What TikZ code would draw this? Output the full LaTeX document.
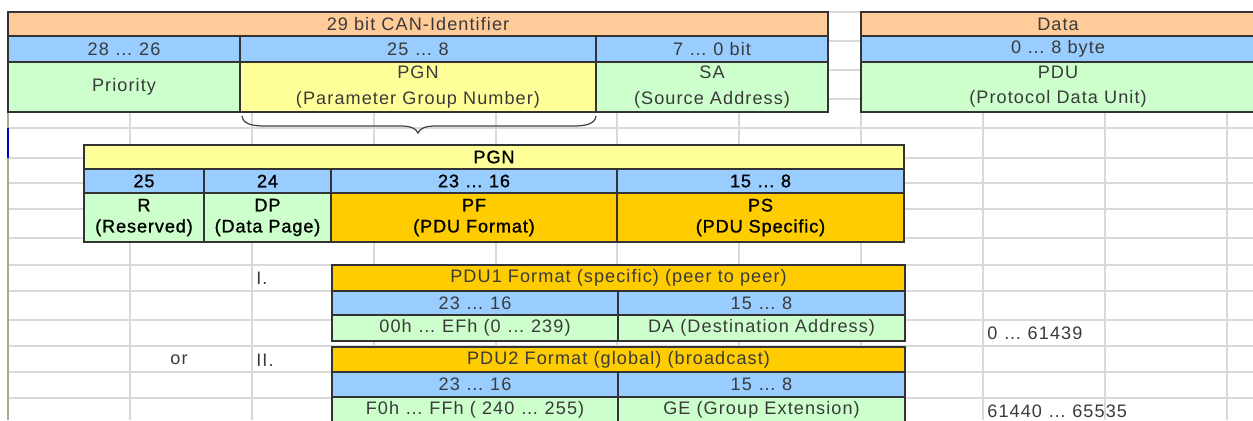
\documentclass[tikz,border=0pt]{standalone}
\usepackage{fontspec}
\setmainfont{Liberation Sans}
\newfontfamily\cellfont{Liberation Sans}[LetterSpace=6]
\newfontfamily\heavyfont{Liberation Sans}[LetterSpace=5, FakeBold=1.2]
\usetikzlibrary{positioning}

\definecolor{canorange}{HTML}{FFCC99}
\definecolor{bitblue}{HTML}{99CCFF}
\definecolor{fieldgreen}{HTML}{CCFFCC}
\definecolor{pgnyellow}{HTML}{FFFF99}
\definecolor{pdugold}{HTML}{FFCC00}
\definecolor{gridgray}{HTML}{D9D9D9}
\definecolor{textgray}{HTML}{3A3A3A}
\definecolor{sheetedge}{HTML}{A8A892}

\begin{document}
\begin{tikzpicture}[x=0.02cm, y=-0.02cm]
		\tikzstyle{Cell} = [rectangle, draw=black!80, line width=0.9pt, inner sep=0pt, align=center, text=textgray, font=\cellfont\fontsize{10.3}{14.3}\selectfont]
		\tikzstyle{Bold} = [Cell, text=black, font=\heavyfont\fontsize{10.3}{12}\selectfont]
		\tikzstyle{Label} = [inner sep=0pt, text=textgray, font=\cellfont\fontsize{10.3}{12}\selectfont]
		\tikzstyle{Grid} = [gridgray, line width=0.8pt]
		\useasboundingbox (0,0) rectangle (1253,420);
		
		% sheet grid
		\foreach \x in {130,252,374,496,617,739,861,983,1105,1227}
			\draw [Grid] (\x,112) -- (\x,420);
		\foreach \y in {128,158,183,209,238,265,291,320,346,372,398}
			\draw [Grid] (8,\y) -- (1253,\y);
		\foreach \y in {12,41,70,99}
			\draw [Grid] (828,\y) -- (861,\y);
		\draw [sheetedge, line width=0.8pt] (8,112) -- (8,420);
		\draw [blue!80!black, line width=0.8pt] (8,128) -- (8,158);
		
		% 29 bit identifier
		\node (canid) [Cell, fill=canorange, minimum width=16.4cm, minimum height=0.48cm] at (418,24) {29 bit CAN-Identifier};
		\node (bitsprio) [Cell, fill=bitblue, minimum width=4.64cm, minimum height=0.52cm] at (124,49) {28 … 26};
		\node (bitspgn) [Cell, fill=bitblue, minimum width=7.12cm, minimum height=0.52cm] at (418,49) {25 … 8};
		\node (bitssa) [Cell, fill=bitblue, minimum width=4.64cm, minimum height=0.52cm] at (712,49) {7 … 0 bit};
		\node (prio) [Cell, fill=fieldgreen, minimum width=4.64cm, minimum height=1cm] at (124,87) {Priority};
		\node (pgn) [Cell, fill=pgnyellow, minimum width=7.12cm, minimum height=1cm] at (418,87) {PGN\\(Parameter Group Number)};
		\node (sa) [Cell, fill=fieldgreen, minimum width=4.64cm, minimum height=1cm] at (712,87) {SA\\(Source Address)};
		
		% data field
		\node (data) [Cell, fill=canorange, minimum width=7.88cm, minimum height=0.48cm] at (1058,24) {Data};
		\node (bytes) [Cell, fill=bitblue, minimum width=7.88cm, minimum height=0.52cm] at (1058,49) {0 … 8 byte};
		\node (pdu) [Cell, fill=fieldgreen, minimum width=7.88cm, minimum height=1cm] at (1058,87) {PDU\\(Protocol Data Unit)};
		
		% brace under PGN
		\draw [black!75, line width=0.7pt] (242,116) .. controls (243,124) and (252,126) .. (265,126) -- (400,126)
			.. controls (410,126) and (416,128) .. (418,133) .. controls (420,128) and (426,126) .. (436,126)
			-- (573,126) .. controls (586,126) and (595,124) .. (596,116);
		
		% PGN split
		\node (pgnhead) [Bold, fill=pgnyellow, minimum width=16.4cm, minimum height=0.48cm] at (494,157) {PGN};
		\node (bitsr) [Bold, fill=bitblue, minimum width=2.4cm, minimum height=0.48cm] at (144,181) {25};
		\node (bitsdp) [Bold, fill=bitblue, minimum width=2.54cm, minimum height=0.48cm] at (267.5,181) {24};
		\node (bitspf) [Bold, fill=bitblue, minimum width=5.72cm, minimum height=0.48cm] at (474,181) {23 … 16};
		\node (bitsps) [Bold, fill=bitblue, minimum width=5.74cm, minimum height=0.48cm] at (760.5,181) {15 … 8};
		\node (res) [Bold, fill=fieldgreen, minimum width=2.4cm, minimum height=0.98cm] at (144,217.5) {R\\(Reserved)};
		\node (dp) [Bold, fill=fieldgreen, minimum width=2.54cm, minimum height=0.98cm] at (267.5,217.5) {DP\\(Data Page)};
		\node (pf) [Bold, fill=pdugold, minimum width=5.72cm, minimum height=0.98cm] at (474,217.5) {PF\\(PDU Format)};
		\node (ps) [Bold, fill=pdugold, minimum width=5.74cm, minimum height=0.98cm] at (760.5,217.5) {PS\\(PDU Specific)};
		
		% PDU1 format
		\node (pdu1head) [Cell, fill=pdugold, minimum width=11.46cm, minimum height=0.52cm] at (618.5,278) {PDU1 Format (specific) (peer to peer)};
		\node (pdu1bitspf) [Cell, fill=bitblue, minimum width=5.72cm, minimum height=0.48cm] at (475,303) {23 … 16};
		\node (pdu1bitsps) [Cell, fill=bitblue, minimum width=5.74cm, minimum height=0.48cm] at (761.5,303) {15 … 8};
		\node (pdu1pf) [Cell, fill=fieldgreen, minimum width=5.72cm, minimum height=0.52cm] at (475,328) {00h … EFh (0 … 239)};
		\node (pdu1ps) [Cell, fill=fieldgreen, minimum width=5.74cm, minimum height=0.52cm] at (761.5,328) {DA (Destination Address)};
		
		% PDU2 format
		\node (pdu2head) [Cell, fill=pdugold, minimum width=11.46cm, minimum height=0.5cm] at (618.5,359.5) {PDU2 Format (global) (broadcast)};
		\node (pdu2bitspf) [Cell, fill=bitblue, minimum width=5.72cm, minimum height=0.5cm] at (475,384.5) {23 … 16};
		\node (pdu2bitsps) [Cell, fill=bitblue, minimum width=5.74cm, minimum height=0.5cm] at (761.5,384.5) {15 … 8};
		\node (pdu2pf) [Cell, fill=fieldgreen, minimum width=5.72cm, minimum height=0.52cm] at (475,410) {F0h … FFh ( 240 … 255)};
		\node (pdu2ps) [Cell, fill=fieldgreen, minimum width=5.74cm, minimum height=0.52cm] at (761.5,410) {GE (Group Extension)};
		
		% labels in the sheet
		\node (one) [Label, anchor=west] at (256,278) {I.};
		\node (two) [Label, anchor=west] at (256,360) {II.};
		\node (or) [Label] at (179,360) {or};
		\node (range1) [Label, anchor=west] at (987,333) {0 … 61439};
		\node (range2) [Label, anchor=west] at (987,411) {61440 … 65535};
\end{tikzpicture}
\end{document}
